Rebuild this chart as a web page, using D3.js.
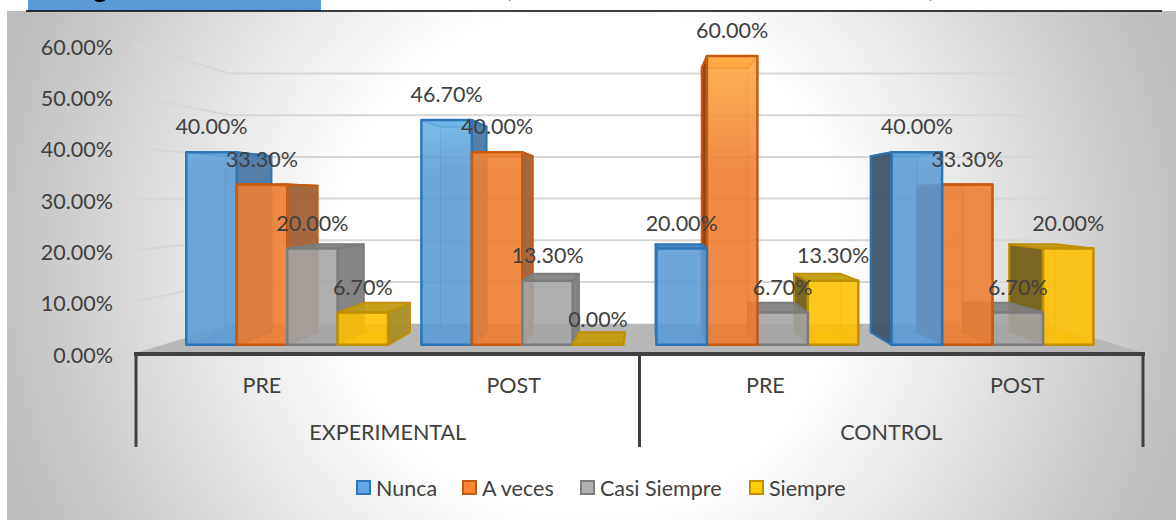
<!DOCTYPE html>
<html><head><meta charset="utf-8">
<script src="https://cdn.jsdelivr.net/npm/d3@7"></script>
<style>html,body{margin:0;padding:0;background:#fff}svg{display:block}text{font-family:Lato,"Open Sans",sans-serif}</style>
</head><body><svg id="c" width="1176" height="520"></svg>
<script>
const groups = ["EXPERIMENTAL","CONTROL"];
const periods = ["PRE","POST","PRE","POST"];
const seriesNames = ["Nunca","A veces","Casi Siempre","Siempre"];
const nunca = [40.0,46.7,20.0,40.0];
const aVeces = [33.3,40.0,60.0,33.3];
const casiSiempre = [20.0,13.3,6.7,6.7];
const siempre = [6.7,0.0,13.3,20.0];
const seriesValues = [nunca,aVeces,casiSiempre,siempre];
const fills = ["#5b9bd5","#ed7d31","#a5a5a5","#ffc000"];
const edges = ["#2e75b6","#c55a11","#7c7c7c","#bf9000"];
const sideLeft = ["#3f566e","#8a3f10","#7f7f7f","#73601e"];
const sideRight = ["#4f7aa5","#a0633a","#808080","#a98c2a"];
const topFaces = ["#3c7fbd","#c55a11","#7f7f7f","#bf9a10"];
const yTicks = [0,10,20,30,40,50,60];

const svg = d3.select("#c");
const defs = svg.append("defs");
const bg = defs.append("radialGradient").attr("id","bg").attr("gradientUnits","userSpaceOnUse")
  .attr("cx",590).attr("cy",260).attr("r",610);
bg.append("stop").attr("offset",0.42).attr("stop-color","#ffffff");
bg.append("stop").attr("offset",1).attr("stop-color","#bdbdbd");
fills.forEach((c,i)=>{
  const g = defs.append("linearGradient").attr("id","front"+i).attr("gradientUnits","userSpaceOnUse")
    .attr("x1",0).attr("x2",0).attr("y1",55).attr("y2",170);
  g.append("stop").attr("offset",0).attr("stop-color",d3.color(c).brighter(0.9));
  g.append("stop").attr("offset",1).attr("stop-color",c);
});

svg.append("rect").attr("x",7).attr("y",11).attr("width",1169).attr("height",509).attr("fill","url(#bg)");
svg.append("rect").attr("x",405).attr("y",466).attr("width",395).attr("height",46).attr("fill","#fff").attr("fill-opacity",0.12);
svg.append("rect").attr("x",28).attr("y",0).attr("width",293).attr("height",11).attr("fill","#5b9bd5");
svg.append("text").attr("x",72).attr("y",-2).attr("font-weight",900).attr("font-size",26).attr("fill","#000").text("Figura");
svg.append("g").selectAll("text").data([508,929]).join("text").attr("x",d=>d).attr("y",-1).attr("font-size",16).attr("fill","#000").text(",");
svg.append("line").attr("x1",26).attr("x2",1162).attr("y1",11).attr("y2",11).attr("stroke","#000").attr("stroke-width",1.5);

const vpX = 645, vpY = 197;
const x0 = d3.scaleBand().domain(d3.range(periods.length)).range([136,1143]);
const x1 = d3.scaleBand().domain(d3.range(seriesNames.length)).range([0,x0.bandwidth()]).paddingOuter(0.33);
const y = d3.scaleLinear().domain([0,60]).range([353,45]);
const project = (wx,v,k) => [vpX+k*(wx-vpX), vpY+k*(y(v)-vpY)];
const kWallBack = 0.812, kFront = 0.9377, kBack = 0.858, xSqueeze = 0.996;
const poly = d3.line();

svg.append("path").attr("fill","#b7b7b7").attr("d",poly([
  project(136,0,1),project(1143,0,1),project(1143,0,kWallBack),project(136,0,kWallBack)])+"Z");
const wall = svg.append("g").attr("fill","none").attr("stroke","#d6d6d6").attr("stroke-width",2);
wall.selectAll("path").data(yTicks.filter(t=>t>0)).join("path")
  .attr("d",t=>poly([project(134,t,1),project(134,t,kWallBack),project(1143,t,kWallBack)]));

const bars = [];
periods.forEach((p,g)=>seriesNames.forEach((s,i)=>{
  const left = vpX+(x0(g)+x1(i)-vpX)*xSqueeze, right = left+x1.bandwidth()*xSqueeze;
  bars.push({g,i,left,right,v:seriesValues[i][g]});
}));
const dist = b => Math.abs((b.left+b.right)/2-vpX);
const order = d3.groups(bars,b=>b.g).flatMap(([,a])=>a.slice().sort((a,b)=>d3.descending(dist(a),dist(b))));
const barG = svg.append("g").attr("transform","translate(0,1.5)");
order.forEach(b=>{
  const g = barG.append("g").attr("stroke",edges[b.i]);
  const P = project;
  const nearX = (b.left+b.right)/2<vpX ? b.right : b.left;
  const farX = nearX===b.right ? b.left : b.right;
  const nearIsLeft = nearX===b.left;
  const face = (pts,fill,op,sw,so)=>g.append("path").attr("d",poly(pts)+"Z").attr("fill",fill).attr("fill-opacity",op)
    .attr("stroke-width",sw).attr("stroke-opacity",so).attr("stroke-linejoin","round");
  const col = fills[b.i];
  face([P(b.left,b.v,kBack),P(b.right,b.v,kBack),P(b.right,0,kBack),P(b.left,0,kBack)],col,0.35,1,0.35);
  face([P(farX,b.v,kFront),P(farX,b.v,kBack),P(farX,0,kBack),P(farX,0,kFront)],col,0.25,1,0.35);
  face([P(b.left,0,kFront),P(b.right,0,kFront),P(b.right,0,kBack),P(b.left,0,kBack)],col,0.5,1,0.4);
  const underside = y(b.v)<vpY;
  face([P(b.left,b.v,kFront),P(b.right,b.v,kFront),P(b.right,b.v,kBack),P(b.left,b.v,kBack)],
       underside?d3.color(col).brighter(0.7):topFaces[b.i],0.9,2,1);
  face([P(nearX,b.v,kFront),P(nearX,b.v,kBack),P(nearX,0,kBack),P(nearX,0,kFront)],
       nearIsLeft?sideLeft[b.i]:sideRight[b.i],0.95,2,1);
  face([P(b.left,b.v,kFront),P(b.right,b.v,kFront),P(b.right,0,kFront),P(b.left,0,kFront)],
       `url(#front${b.i})`,0.84,2.5,1);
});

const fmt = v=>v.toFixed(2)+"%";
const textFill = "#404040", fs = 21.5;
svg.append("g").selectAll("text").data(bars).join("text")
  .attr("x",b=>project((b.left+b.right)/2,b.v,kFront)[0])
  .attr("y",b=>project(b.left,b.v,kFront)[1]-24)
  .attr("dy","0.35em").attr("text-anchor","middle").attr("font-size",fs).attr("fill",textFill)
  .text(b=>fmt(b.v));

svg.append("g").selectAll("text").data(yTicks).join("text")
  .attr("x",113).attr("y",t=>y(t)+2).attr("dy","0.35em").attr("text-anchor","end")
  .attr("font-size",fs).attr("fill",textFill).text(t=>t.toFixed(2)+"%");

const axisColor = "#404040";
svg.append("line").attr("x1",134).attr("x2",1145).attr("y1",354).attr("y2",354).attr("stroke",axisColor).attr("stroke-width",4);
svg.append("g").selectAll("line").data([0,2,4]).join("line")
  .attr("x1",g=>g<4?x0(g):1143).attr("x2",g=>g<4?x0(g):1143).attr("y1",354).attr("y2",447)
  .attr("stroke",axisColor).attr("stroke-width",3);
svg.append("g").selectAll("text").data(periods).join("text")
  .attr("x",(d,i)=>x0(i)+x0.bandwidth()/2).attr("y",385).attr("dy","0.35em").attr("text-anchor","middle")
  .attr("font-size",fs).attr("fill",textFill).text(d=>d);
svg.append("g").selectAll("text").data(groups).join("text")
  .attr("x",(d,i)=>x0(i*2)+x0.bandwidth()).attr("y",432).attr("dy","0.35em").attr("text-anchor","middle")
  .attr("font-size",fs).attr("fill",textFill).text(d=>d);

const legendX = d3.scaleOrdinal().domain(seriesNames).range([356,462,580,749]);
const leg = svg.append("g").selectAll("g").data(seriesNames).join("g")
  .attr("transform",d=>`translate(${legendX(d)},488)`);
leg.append("rect").attr("x",1).attr("y",-7).attr("width",13).attr("height",13)
  .attr("fill",(d,i)=>d3.color(fills[i]).brighter(0.2)).attr("stroke",(d,i)=>edges[i]).attr("stroke-width",2);
leg.append("text").attr("x",20).attr("dy","0.35em").attr("font-size",fs).attr("fill",textFill).text(d=>d);
</script></body></html>
